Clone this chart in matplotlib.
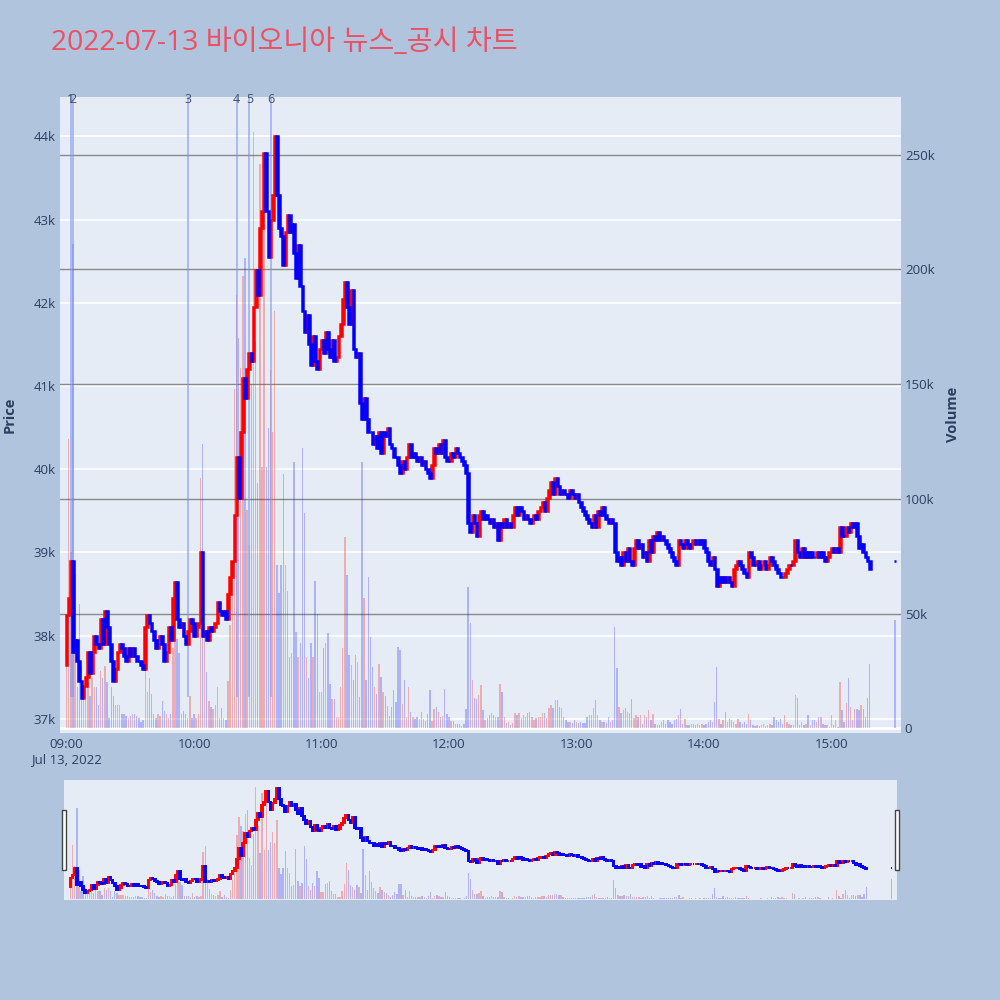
import numpy as np
import matplotlib
matplotlib.use("Agg")
import matplotlib.pyplot as plt
import matplotlib.transforms as mtransforms
from matplotlib.patches import Rectangle
from matplotlib.ticker import FuncFormatter

plt.rcParams['font.family'] = ['Open Sans', 'Noto Sans CJK KR', 'DejaVu Sans']

title = "2022-07-13 바이오니아 뉴스_공시 차트"
day_label = "Jul 13, 2022"

# 1-minute candles from 09:00, prices in KRW
first_open = 37650
closes = [
    38250, 38450, 38900, 37800, 37950, 37700, 37450, 37250, 37400, 37500,
    37800, 37550, 37800, 38000, 37900, 37850, 38200, 37900, 38300, 38100,
    37900, 37700, 37450, 37600, 37800, 37900, 37850, 37750, 37700, 37850,
    37750, 37850, 37750, 37700, 37700, 37650, 37600, 38100, 38250, 38150,
    38050, 37950, 37850, 37950, 38000, 37900, 37700, 37800, 38100, 37950,
    38450, 38650, 38200, 38100, 38150, 38000, 37900, 38050, 38200, 38150,
    38000, 38100, 38150, 39000, 38000, 38050, 37950, 38100, 38050, 38100,
    38150, 38400, 38300, 38250, 38300, 38200, 38500, 38700, 38900, 39450,
    40150, 39650, 40450, 41100, 40850, 41200, 41400, 41300, 41950, 42400,
    42100, 42900, 43100, 43800, 43100, 42550, 43000, 43300, 44000, 43300,
    42900, 42800, 42450, 42850, 43050, 42850, 42950, 42600, 42300, 42700,
    42200, 41900, 41650, 41850, 41500, 41250, 41600, 41300, 41200, 41450,
    41550, 41400, 41650, 41450, 41350, 41550, 41300, 41350, 41600, 41750,
    42050, 42250, 41950, 41750, 42150, 41450, 41350, 41400, 40800, 40600,
    40850, 40600, 40450, 40450, 40300, 40400, 40250, 40450, 40200, 40450,
    40400, 40500, 40300, 40250, 40150, 40150, 40050, 39950, 40100, 40000,
    40150, 40300, 40150, 40200, 40150, 40100, 40150, 40050, 40100, 40000,
    39950, 39900, 40050, 40250, 40200, 40300, 40200, 40350, 40150, 40100,
    40100, 40200, 40150, 40250, 40200, 40150, 40100, 40050, 39950, 39350,
    39250, 39450, 39350, 39200, 39450, 39500, 39400, 39450, 39400, 39350,
    39400, 39300, 39350, 39150, 39350, 39300, 39400, 39300, 39350, 39300,
    39450, 39550, 39450, 39550, 39500, 39400, 39450, 39400, 39350, 39400,
    39450, 39400, 39500, 39550, 39600, 39500, 39650, 39750, 39850, 39700,
    39900, 39800, 39700, 39750, 39700, 39700, 39650, 39750, 39700, 39650,
    39700, 39600, 39550, 39500, 39450, 39400, 39350, 39300, 39450, 39300,
    39500, 39450, 39550, 39450, 39400, 39350, 39400, 39350, 39000, 38900,
    38950, 38850, 39000, 38900, 39050, 38900, 38850, 39050, 39150, 39050,
    39100, 38950, 39000, 38900, 39150, 39000, 39200, 39150, 39250, 39150,
    39200, 39150, 39100, 39050, 39000, 38950, 38900, 38850, 39150, 39100,
    39050, 39150, 39100, 39050, 39100, 39150, 39100, 39150, 39100, 39150,
    39050, 39000, 38900, 38850, 38950, 38800, 38600, 38700, 38650, 38700,
    38650, 38700, 38650, 38600, 38800, 38850, 38900, 38850, 38800, 38750,
    38700, 39000, 38950, 38850, 38850, 38900, 38800, 38850, 38900, 38800,
    38850, 38950, 38900, 38850, 38800, 38750, 38700, 38700, 38750, 38800,
    38850, 38850, 38900, 39150, 39000, 38950, 39050, 38950, 39000, 38950,
    39000, 38950, 38950, 39000, 38950, 39000, 38950, 38900, 38950, 39000,
    39050, 39000, 39050, 39000, 39300, 39200, 39200, 39300, 39250, 39350,
    39300, 39350, 39200, 39050, 39100, 39000, 38950, 38900, 38800,
]

# volume per minute, thousands of shares
volumes_k = [
    37, 126, 77, 211, 67, 18, 54, 27, 18, 20,
    20, 14, 22, 18, 18, 10, 25, 22, 27, 20,
    4.5, 18, 14, 10, 10, 10, 6.4, 6.4, 5.5, 4.5,
    5.5, 6.4, 6.4, 5.5, 4.5, 2.6, 3.6, 27, 16, 22,
    15, 6.4, 4.5, 6.4, 5.5, 12, 7.4, 6.4, 4.5, 6.4,
    35, 48, 39, 33, 6.4, 7.4, 6.4, 4.5, 14, 4.5,
    6.4, 4.5, 6.4, 109, 124, 46, 24.5, 12, 9.3, 8.3,
    10, 17.8, 4.5, 9, 4.5, 3.6, 20.7, 45, 67, 148,
    189, 170, 157, 197, 205, 95, 80, 150, 260, 169,
    107, 246, 114, 249, 114, 131, 156, 129, 182, 71,
    59, 71, 111, 71, 60, 31, 33, 116, 42, 31,
    37, 122, 94, 31, 22, 37, 31, 64, 50, 16,
    16, 35, 37, 41.5, 19.5, 12.9, 12.9, 5.1, 5.1, 18,
    34.8, 83.5, 66.7, 31.8, 27.4, 21, 31.8, 28.9, 13.6, 116,
    56.6, 21, 66, 39.9, 26.7, 18, 15, 28.1, 22.3, 15.8,
    14.3, 9.9, 5.5, 9.2, 16.5, 11.4, 35.5, 34, 10.7, 21,
    5.1, 18, 7, 5.1, 4.1, 5.1, 4.1, 7, 4.1, 3.3,
    6.3, 16.5, 3.3, 8.4, 9.2, 7, 5.1, 5.5, 17.3, 6.3,
    5.1, 3.3, 3.3, 1.9, 1.9, 1.9, 1.2, 1.9, 8.4, 61.6,
    45.7, 20.9, 13, 12.9, 14.4, 18.8, 8, 3.6, 4.4, 5.8,
    6.5, 5.8, 5.1, 5.1, 19.5, 15.8, 5.1, 2.2, 2.9, 1.5,
    2.2, 6.5, 5.8, 6.5, 4.4, 5.8, 5.1, 6.5, 7.3, 5.1,
    3.6, 4.4, 5.1, 5.1, 6.5, 6.5, 4.4, 8.7, 10.2, 8.7,
    12.4, 12.4, 9.5, 8.7, 5.1, 3.6, 2.9, 2.9, 2.2, 3.6,
    2.9, 2.2, 2.9, 2.2, 2.2, 5.1, 5.8, 5.8, 8.7, 12.4,
    5.8, 3.6, 2.9, 2.9, 2.2, 5.1, 2.9, 3.6, 44, 26.1,
    9.5, 6.5, 8, 8.7, 7.3, 6.5, 12.9, 4.4, 5.8, 5.1,
    5.7, 2.0, 5.7, 4.9, 7.9, 3.5, 6.4, 2.0, 1.3, 1.3,
    2.8, 3.5, 2.0, 3.5, 2.8, 2.0, 3.5, 4.2, 5.7, 8.6,
    2.0, 4.2, 1.3, 1.3, 2.0, 2.0, 1.3, 2.0, 1.3, 2.0,
    1.3, 2.0, 2.8, 3.8, 2.8, 11.5, 26.8, 4.2, 2.0, 3.5,
    7.1, 2.8, 4.2, 3.8, 2.8, 2.0, 4.2, 2.8, 2.0, 2.8,
    2.0, 6.4, 3.5, 1.3, 0.9, 1.3, 0.9, 1.3, 2.0, 0.9,
    1.3, 2.0, 1.3, 5.0, 3.5, 2.8, 4.2, 2.0, 5.7, 2.8,
    2.0, 1.3, 1.3, 14.4, 13, 1.3, 2.8, 1.3, 2.0, 5.7,
    1.3, 3.5, 3.8, 2.8, 4.9, 4.9, 2.0, 1.3, 1.3, 0.6,
    5.7, 1.3, 3.8, 0.6, 20.2, 7.9, 2.8, 11.1, 22.1, 9.3,
    3.8, 8.6, 8.6, 7.9, 10, 8.6, 5.0, 13, 28.2,
]

# closing auction
auction_time = "15:30"
auction_price = 38900
auction_volume_k = 47

news_times = ["09:02", "09:03", "09:57", "10:20", "10:26", "10:36"]
hour_ticks = ["09:00", "10:00", "11:00", "12:00", "13:00", "14:00", "15:00"]

price_ticks = [37000, 38000, 39000, 40000, 41000, 42000, 43000, 44000]
volume_ticks = [0, 50000, 100000, 150000, 200000, 250000]

UP = '#ff0000'
DOWN = '#0000ff'
TXT = '#2a3f5f'
PLOT_BG = '#e5ecf6'
PAPER_BG = '#b0c4de'


def to_min(s):
    h, m = s.split(":")
    return (int(h) - 9) * 60 + int(m)


t = np.append(np.arange(len(closes)), to_min(auction_time)).astype(float)
c = np.array(closes + [auction_price], dtype=float)
o = np.array([first_open] + closes[:-1] + [auction_price], dtype=float)
vol = np.array(volumes_k + [auction_volume_k]) * 1000
up = c > o

xlim = (-3.1, 392.6)
plim = (36834, 44480)
vlim = (-1870, 275400)


def draw_candles(ax, lw):
    ax.bar(t[up], c[up] - o[up], bottom=o[up], width=0.8, color=UP,
           edgecolor=UP, linewidth=lw, zorder=3)
    ax.bar(t[~up], o[~up] - c[~up], bottom=c[~up], width=0.8, color=DOWN,
           edgecolor=DOWN, linewidth=lw, zorder=3)


def draw_volume(ax):
    cols = [(1, 0, 0, 0.27) if u else (0, 0, 1, 0.24) for u in up]
    ax.bar(t, vol, width=0.65, color=cols, linewidth=0, zorder=2)


fig = plt.figure(figsize=(10, 10), dpi=100)
fig.patch.set_facecolor(PAPER_BG)

# main chart: volume axes underneath, price axes on top
ax_v = fig.add_axes([0.060, 0.2674, 0.8407, 0.6361])
ax_v.set_facecolor(PLOT_BG)
ax_p = ax_v.twinx()
ax_v.yaxis.tick_right()
ax_v.yaxis.set_label_position('right')
ax_p.yaxis.tick_left()
ax_p.yaxis.set_label_position('left')

ax_v.set_xlim(*xlim)
ax_v.set_ylim(*vlim)
ax_p.set_ylim(*plim)

# grid lines (all below the data)
grid_tr = mtransforms.blended_transform_factory(ax_v.transAxes, ax_p.transData)
for p in price_ticks:
    ax_v.plot([0, 1], [p, p], color='white', lw=1.1, transform=grid_tr, zorder=0.5)
for v in volume_ticks[1:]:
    ax_v.axhline(v, color='#8a8a8a', lw=1, zorder=0.6)
ax_v.axhline(0, color='white', lw=1.8, zorder=0.7)

draw_volume(ax_v)
draw_candles(ax_p, 1.8)

# news markers
line_tr = mtransforms.blended_transform_factory(ax_p.transData, ax_p.transAxes)
for i, nt in enumerate(news_times):
    x = to_min(nt)
    ax_p.axvline(x, ymin=0.0575, ymax=1.0, color='#7b93ee', alpha=0.6, lw=1.3, zorder=2.5)
    ax_p.text(x, 0.9945, str(i + 1), transform=line_tr, ha='center', va='center',
              fontsize=9, color='#44506a', zorder=5)

ax_v.set_xticks([to_min(h) for h in hour_ticks])
ax_v.set_xticklabels([hour_ticks[0] + "\n" + day_label] + hour_ticks[1:])
ax_p.set_yticks(price_ticks)
ax_p.yaxis.set_major_formatter(FuncFormatter(lambda v, pos: "%dk" % (v // 1000)))
ax_v.set_yticks(volume_ticks)
ax_v.yaxis.set_major_formatter(FuncFormatter(lambda v, pos: "0" if v == 0 else "%dk" % (v // 1000)))

for a in (ax_v, ax_p):
    a.tick_params(length=0, labelsize=9.5, labelcolor=TXT, pad=3)
    for s in a.spines.values():
        s.set_visible(False)
ax_v.tick_params(axis='x', pad=4)

ax_p.set_ylabel("Price", fontsize=10.5, fontweight='bold', color=TXT)
ax_p.yaxis.set_label_coords(-0.052, 0.5)
ax_v.set_ylabel("Volume", fontsize=10.5, fontweight='bold', color=TXT)
ax_v.yaxis.set_label_coords(1.054, 0.5)

fig.text(0.051, 0.957, title, fontsize=20.3, color='#ec5062', ha='left', va='center',
         family=['Open Sans', 'Noto Sans CJK KR'])

# range slider
rs_v = fig.add_axes([0.064, 0.100, 0.833, 0.120])
rs_v.set_facecolor(PLOT_BG)
rs_p = rs_v.twinx()
rs_v.set_xlim(*xlim)
rs_v.set_ylim(*vlim)
rs_p.set_ylim(*plim)
draw_volume(rs_v)
draw_candles(rs_p, 1.4)
for a in (rs_v, rs_p):
    a.set_xticks([])
    a.set_yticks([])
    for s in a.spines.values():
        s.set_visible(False)

for hx in (0.0615, 0.8945):
    fig.patches.append(Rectangle((hx, 0.130), 0.0045, 0.060, transform=fig.transFigure,
                                 facecolor='white', edgecolor='#444444', lw=1, zorder=10))

fig.savefig("out.png", dpi=100, facecolor=PAPER_BG)
